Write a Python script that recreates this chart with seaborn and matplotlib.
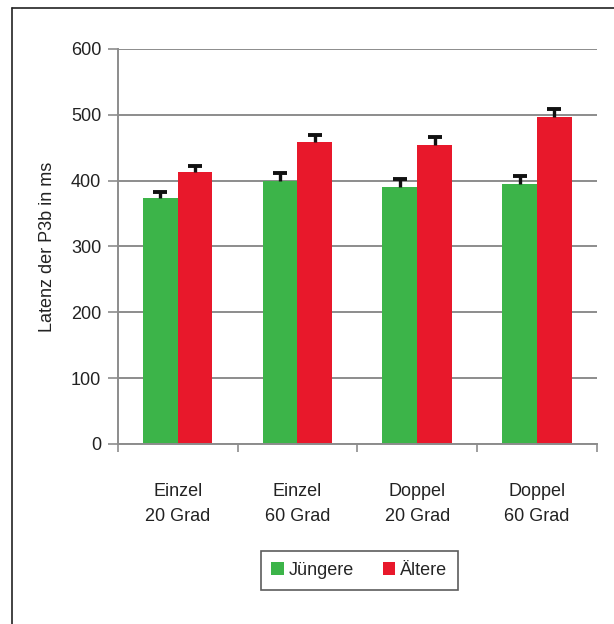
import matplotlib
matplotlib.use("Agg")
import matplotlib.pyplot as plt
import seaborn as sns
import pandas as pd
from matplotlib.patches import Patch
from matplotlib.lines import Line2D

categories = ["Einzel\n20 Grad", "Einzel\n60 Grad", "Doppel\n20 Grad", "Doppel\n60 Grad"]
series = ["Jüngere", "Ältere"]
jung = [374, 400, 391, 395]
alt = [413, 458, 454, 497]
err_jung = [9, 12, 12, 12]
err_alt = [9, 12, 12, 12]
yticks = [0, 100, 200, 300, 400, 500, 600]

colors = {"Jüngere": "#3cb449", "Ältere": "#e8182b"}

df = pd.DataFrame({
    "cat": categories * 2,
    "grp": [series[0]] * 4 + [series[1]] * 4,
    "val": jung + alt,
    "err": err_jung + err_alt,
})

sns.set_style("white")
plt.rcParams["font.family"] = ["Liberation Sans", "DejaVu Sans"]
FS = 13
TXT = "#222222"
AX = "#8c8c8c"

fig = plt.figure(figsize=(6.14, 6.24), dpi=100)
ax = fig.add_axes([0.192, 0.2885, 0.78, 0.633])

sns.barplot(data=df, x="cat", y="val", hue="grp", palette=colors, width=0.58,
            saturation=1, ax=ax, legend=False, errorbar=None, linewidth=0)

# error bars (upper only, Excel style)
for patch_list, grp in zip([ax.patches[:4], ax.patches[4:8]], series):
    sub = df[df.grp == grp]
    xs = [p.get_x() + p.get_width() / 2 for p in patch_list]
    vals = sub["val"].values
    errs = sub["err"].values
    ax.errorbar(xs, vals, yerr=[[0] * 4, errs], fmt="none",
                ecolor="#111111", elinewidth=2.4, capsize=0, zorder=5)
    ax.plot(xs, vals + errs, ls="none", marker="_", markersize=10,
            markeredgewidth=2.8, color="#111111", zorder=6)

ax.set_ylim(0, 600)
ax.set_xlim(-0.5, 3.5)
ax.set_yticks(yticks)
ax.set_yticklabels([str(t) for t in yticks], fontsize=FS, color=TXT)
ax.yaxis.grid(True, color=AX, linewidth=1.4)
ax.set_axisbelow(True)
ax.set_xticks(range(4))
ax.set_xticklabels(categories, fontsize=FS, color=TXT, linespacing=1.6)
ax.tick_params(axis="x", which="major", length=0, pad=28)
ax.set_xticks([-0.5, 0.5, 1.5, 2.5, 3.5], minor=True)
ax.tick_params(axis="x", which="minor", length=6, width=1.2, color=AX, direction="out", bottom=True)
ax.tick_params(axis="y", length=7, width=1.2, color=AX, direction="out", left=True, pad=5)
ax.set_xlabel("")
ax.set_ylabel("Latenz der P3b in ms", fontsize=FS, color=TXT, labelpad=11)
for s in ["top", "right"]:
    ax.spines[s].set_visible(False)
for s in ["left", "bottom"]:
    ax.spines[s].set_color(AX)
    ax.spines[s].set_linewidth(1.4)

handles = [Patch(facecolor=colors[s], edgecolor="none", label=s) for s in series]
leg = fig.legend(handles=handles, loc="upper center", bbox_to_anchor=(0.585, 0.131), ncol=2,
                 fontsize=FS, frameon=True, fancybox=False, handlelength=0.7, handleheight=0.7,
                 handletextpad=0.25, columnspacing=1.6, borderpad=0.6)
leg.get_frame().set_edgecolor("#333333")
leg.get_frame().set_linewidth(1.2)

# figure border (left and top edges visible)
fig.add_artist(Line2D([12 / 614, 12 / 614], [0, 1 - 8 / 624], transform=fig.transFigure, color="#222222", linewidth=1.2))
fig.add_artist(Line2D([12 / 614, 1], [1 - 8 / 624, 1 - 8 / 624], transform=fig.transFigure, color="#222222", linewidth=1.2))

fig.savefig("out.png", dpi=100)
